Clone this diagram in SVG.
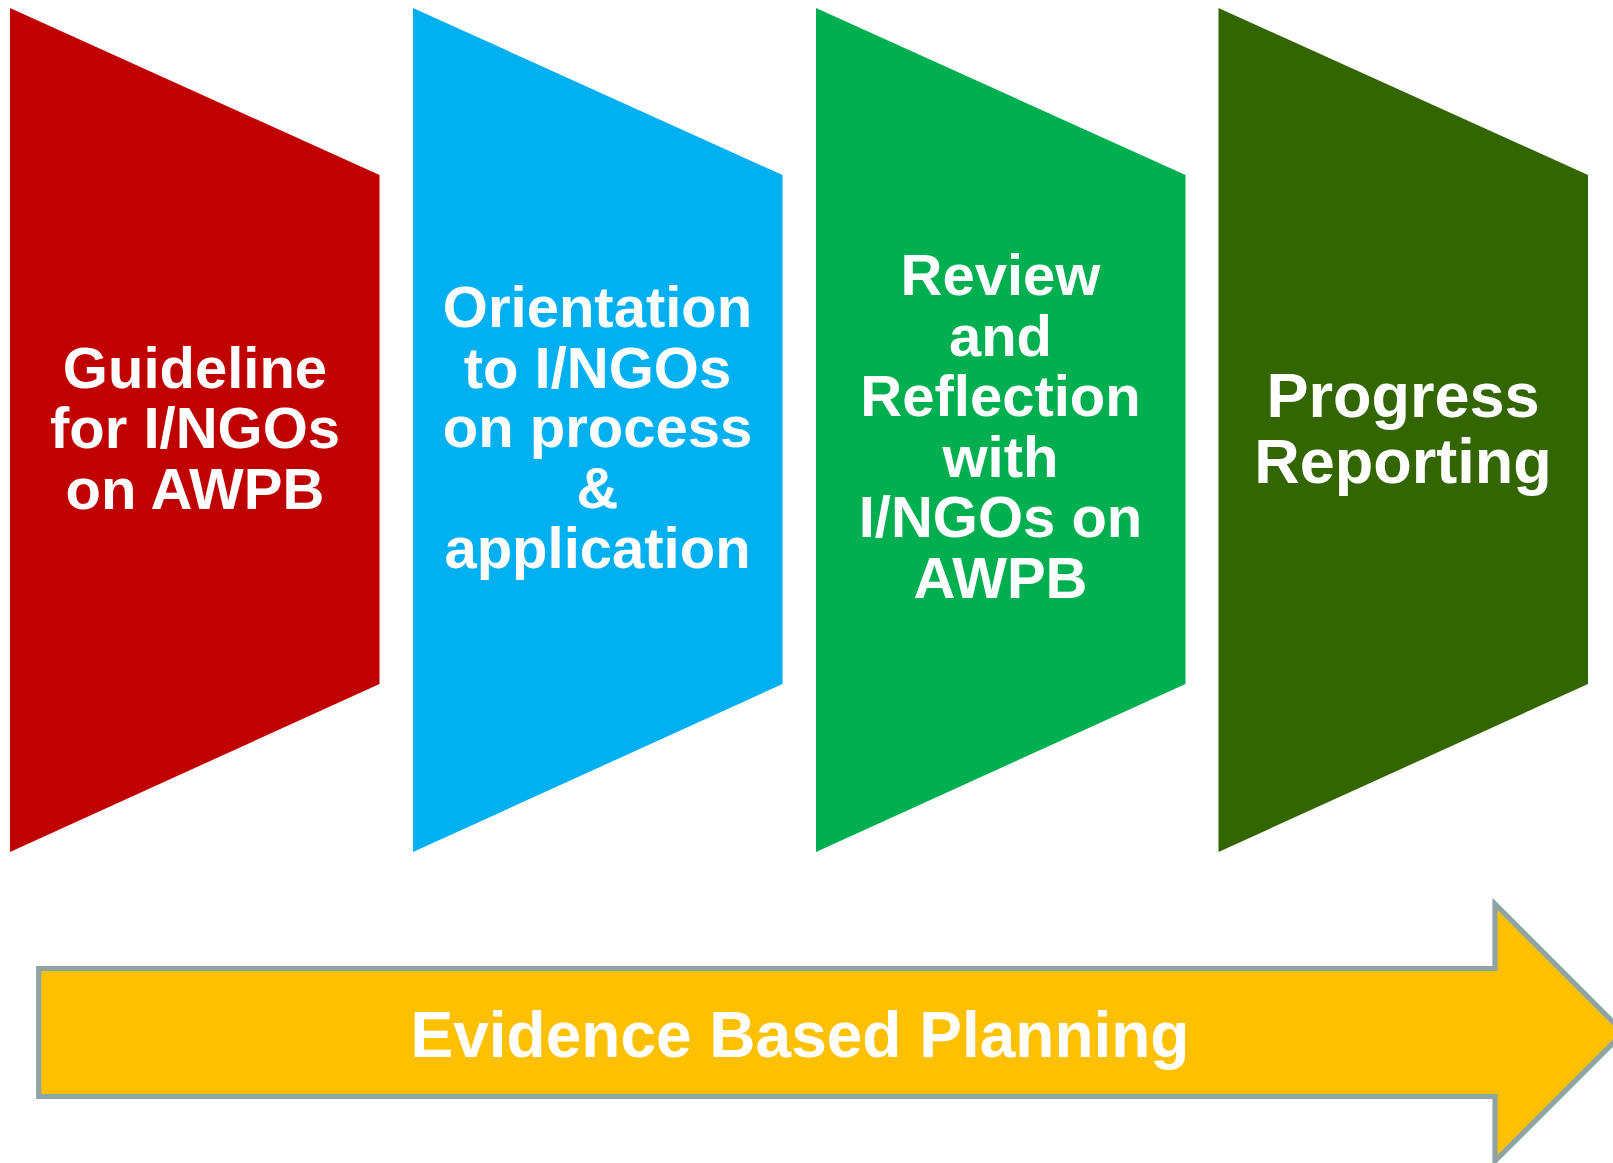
<svg xmlns="http://www.w3.org/2000/svg" width="1613" height="1163" viewBox="0 0 1613 1163">
<style>
.lbl{font-family:"Liberation Sans",Arial,sans-serif;font-weight:bold;fill:#FFFFFF;text-anchor:middle}
.n{font-size:58px}
.big{font-size:63px}
.arr{font-size:64px}
</style>
<rect width="1613" height="1163" fill="#FFFFFF"/>
<g id="node-guideline">
<polygon points="10,8 379.5,175 379.5,684 10,852" fill="#C00000"/>
<text class="lbl n" x="195" y="387.5">Guideline</text>
<text class="lbl n" x="195" y="448">for I/NGOs</text>
<text class="lbl n" x="195" y="508.5">on AWPB</text>
</g>
<g id="node-orientation">
<polygon points="413,8 782.5,175 782.5,684 413,852" fill="#00B0F0"/>
<text class="lbl n" x="597.5" y="327">Orientation</text>
<text class="lbl n" x="597.5" y="387.5">to I/NGOs</text>
<text class="lbl n" x="597.5" y="447">on process</text>
<text class="lbl n" x="597.5" y="507.5">&amp;</text>
<text class="lbl n" x="597.5" y="567.5">application</text>
</g>
<g id="node-review">
<polygon points="816,8 1185.5,175 1185.5,684 816,852" fill="#00B050"/>
<text class="lbl n" x="1000.5" y="295">Review</text>
<text class="lbl n" x="1000.5" y="355.5">and</text>
<text class="lbl n" x="1000.5" y="416">Reflection</text>
<text class="lbl n" x="1000.5" y="476.5">with</text>
<text class="lbl n" x="1000.5" y="537">I/NGOs on</text>
<text class="lbl n" x="1000.5" y="597.5">AWPB</text>
</g>
<g id="node-progress">
<polygon points="1218.5,8 1588,175 1588,684 1218.5,852" fill="#336600"/>
<text class="lbl big" x="1403" y="416.5">Progress</text>
<text class="lbl big" x="1403" y="483">Reporting</text>
</g>
<g id="connectors">
<g id="arrow-evidence">
<polygon points="38.7,968.5 1495,968.5 1495,904 1623.5,1032.5 1495,1161 1495,1096.5 38.7,1096.5" fill="#FFC000" stroke="#8FA4A4" stroke-width="5.2"/>
<text class="lbl arr" x="800" y="1057">Evidence Based Planning</text>
</g>
</g>
</svg>
